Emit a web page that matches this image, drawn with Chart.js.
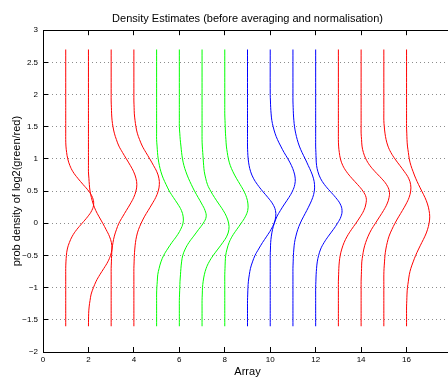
<!DOCTYPE html>
<html>
<head>
<meta charset="UTF-8">
<title>Density Estimates</title>
<script src="https://cdn.jsdelivr.net/npm/chart.js"></script>
<style>
  html, body { margin: 0; padding: 0; background: #fff; overflow: hidden; }
  #chart { display: block; }
</style>
</head>
<body>
<canvas id="chart" width="460" height="378"></canvas>
<script>
// log2 ratio values the densities were evaluated at (top to bottom)
const yGrid = [2.7, 2.0, 1.9, 1.8, 1.7, 1.6, 1.5, 1.4, 1.3, 1.2, 1.1, 1.0, 0.9, 0.8, 0.7, 0.6, 0.5, 0.4, 0.3, 0.2,
               0.1, 0.0, -0.1, -0.2, -0.3, -0.4, -0.5, -0.6, -0.7, -0.8, -0.9, -1.0, -1.1, -1.2, -1.3, -1.4, -1.6];
const arrays = [1, 2, 3, 4, 5, 6, 7, 8, 9, 10, 11, 12, 13, 14, 15, 16];

// density of each array, one value per yGrid entry
const d1  = [0,0,0,0,0,0,0,0,0, 0.01,0.04,0.09,0.18,0.32,0.53,0.77,1.01,1.18,1.23,1.15,0.96,0.72,0.48,0.29,0.16,0.07,0.03,0.01, 0,0,0,0,0,0,0,0,0];
const d2  = [0,0,0,0,0,0,0,0,0,0,0,0,0,0, 0.02,0.04,0.07,0.13,0.21,0.32,0.47,0.63,0.78,0.92,1.01,1.03,0.97,0.85,0.68,0.50,0.34,0.22,0.12,0.07,0.03,0.01, 0];
const d3  = [0,0,0, 0.01,0.02,0.04,0.08,0.14,0.23,0.34,0.50,0.67,0.84,0.99,1.09,1.13,1.09,0.99,0.84,0.67,0.50,0.34,0.23,0.14,0.08,0.04,0.02,0.01, 0,0,0,0,0,0,0,0,0];
const d4  = [0,0,0, 0.01,0.02,0.05,0.09,0.15,0.25,0.37,0.53,0.70,0.86,1.01,1.10,1.12,1.07,0.96,0.80,0.63,0.46,0.32,0.20,0.12,0.07,0.04,0.02,0.01, 0,0,0,0,0,0,0,0,0];
const d5  = [0,0,0,0,0,0,0,0,0, 0.02,0.04,0.07,0.12,0.19,0.29,0.42,0.56,0.74,0.93,1.09,1.17,1.16,1.05,0.88,0.67,0.48,0.31,0.19,0.11,0.05,0.03,0.01, 0,0,0,0,0];
const d6  = [0,0,0,0,0,0,0, 0.02,0.04,0.07,0.10,0.14,0.20,0.29,0.40,0.53,0.67,0.83,0.99,1.13,1.18,1.05,0.84,0.63,0.42,0.26,0.15,0.10,0.07,0.05,0.03,0.02,0.01, 0,0,0,0];
const d7  = [0,0,0,0,0,0,0,0,0, 0.01,0.03,0.05,0.07,0.10,0.16,0.24,0.38,0.55,0.74,0.93,1.08,1.17,1.18,1.09,0.91,0.70,0.49,0.31,0.18,0.10,0.05,0.02,0.01, 0,0,0,0];
const d8  = [0,0,0,0,0, 0.01,0.02,0.03,0.05,0.07,0.11,0.16,0.24,0.36,0.51,0.68,0.84,0.96,1.02,1.01,0.90,0.72,0.52,0.33,0.19,0.10,0.04,0.02,0.01, 0,0,0,0,0,0,0,0];
const d9  = [0,0,0,0,0,0,0,0,0,0, 0.01,0.03,0.07,0.14,0.26,0.44,0.66,0.90,1.11,1.23,1.24,1.17,1.03,0.85,0.66,0.49,0.33,0.22,0.13,0.08,0.04,0.02,0.01, 0,0,0,0];
const d10 = [0,0, 0.01,0.02,0.04,0.07,0.13,0.21,0.32,0.46,0.61,0.78,0.93,1.04,1.10,1.08,0.98,0.82,0.63,0.45,0.29,0.18,0.10,0.05,0.02,0.01, 0,0,0,0,0,0,0,0,0,0,0];
const d11 = [0,0,0, 0.01,0.02,0.04,0.07,0.12,0.19,0.28,0.40,0.54,0.67,0.80,0.90,0.95,0.94,0.87,0.75,0.61,0.46,0.32,0.21,0.13,0.07,0.04,0.02,0.01, 0,0,0,0,0,0,0,0,0];
const d12 = [0,0,0,0,0,0,0,0,0,0, 0.01,0.02,0.04,0.10,0.21,0.39,0.63,0.88,1.08,1.16,1.11,0.96,0.77,0.56,0.37,0.22,0.13,0.07,0.04,0.02,0.01, 0,0,0,0,0,0];
const d13 = [0,0,0,0,0,0,0,0,0, 0.01,0.04,0.09,0.19,0.36,0.59,0.85,1.08,1.22,1.21,1.12,0.96,0.77,0.57,0.39,0.25,0.15,0.08,0.04,0.02,0.01, 0,0,0,0,0,0,0];
const d14 = [0,0,0,0,0,0,0,0, 0.02,0.04,0.10,0.21,0.38,0.62,0.89,1.12,1.24,1.23,1.14,0.99,0.81,0.63,0.45,0.31,0.20,0.12,0.07,0.03,0.02,0.01, 0,0,0,0,0,0,0];
const d15 = [0,0,0,0,0,0, 0.02,0.05,0.10,0.18,0.31,0.49,0.70,0.91,1.09,1.18,1.18,1.11,0.98,0.82,0.65,0.49,0.35,0.23,0.15,0.09,0.05,0.03,0.01, 0,0,0,0,0,0,0,0];
const d16 = [0,0,0,0,0,0,0, 0.01,0.02,0.04,0.08,0.12,0.19,0.29,0.40,0.53,0.67,0.81,0.92,0.99,1.02,0.99,0.92,0.81,0.67,0.53,0.40,0.29,0.19,0.12,0.08,0.04,0.02,0.01, 0,0,0];

const densities = [d1, d2, d3, d4, d5, d6, d7, d8, d9, d10, d11, d12, d13, d14, d15, d16];

const red = '#ff0000', green = '#00ff00', blue = '#0000ff';
const colours = [red, red, red, red, green, green, green, green, blue, blue, blue, blue, red, red, red, red];

Chart.defaults.font.family = '"Liberation Sans", Arial, Helvetica, sans-serif';
Chart.defaults.color = '#000';

// inward tick marks and the top edge of the box, like the original plot
const boxTicks = {
  id: 'boxTicks',
  afterDraw(chart) {
    const {ctx, chartArea: a, scales: {x, y}} = chart;
    const al = p => Math.round(p - 0.5) + 0.5;
    ctx.save();
    ctx.strokeStyle = '#000';
    ctx.lineWidth = 1;
    ctx.beginPath();
    ctx.moveTo(a.left, al(a.top));
    ctx.lineTo(a.right, al(a.top));
    x.ticks.forEach(t => {
      const px = al(x.getPixelForValue(t.value));
      ctx.moveTo(px, a.bottom);
      ctx.lineTo(px, a.bottom - 5);
      ctx.moveTo(px, a.top);
      ctx.lineTo(px, a.top + 5);
    });
    y.ticks.forEach(t => {
      const py = al(y.getPixelForValue(t.value));
      ctx.moveTo(a.left, py);
      ctx.lineTo(a.left + 5, py);
    });
    ctx.stroke();
    ctx.restore();
  }
};

new Chart(document.getElementById('chart'), {
  type: 'line',
  data: {
    datasets: densities.map((d, i) => ({
      label: 'Array ' + arrays[i],
      data: d.map((v, j) => ({x: arrays[i] + v, y: yGrid[j]})),
      borderColor: colours[i],
      borderWidth: 1,
      pointRadius: 0,
      tension: 0.4,
      fill: false
    }))
  },
  options: {
    responsive: false,
    animation: false,
    layout: {padding: {right: 8}},
    plugins: {
      legend: {display: false},
      tooltip: {enabled: false},
      title: {
        display: true,
        text: 'Density Estimates (before averaging and normalisation)',
        fullSize: false,
        font: {size: 11, weight: 'normal'},
        padding: {top: 12, bottom: 5}
      }
    },
    scales: {
      x: {
        type: 'linear',
        min: 0,
        max: 18,
        afterFit: s => { s.height = 26; },
        ticks: {
          stepSize: 2,
          autoSkip: false,
          maxRotation: 0,
          padding: 3,
          font: {size: 8},
          callback: v => (v === 18 ? '' : String(v))
        },
        grid: {display: false, drawTicks: false},
        border: {color: '#000', width: 1},
        title: {display: true, text: 'Array', font: {size: 11}, padding: {top: 0, bottom: -1}}
      },
      y: {
        type: 'linear',
        min: -2,
        max: 3,
        afterFit: s => { s.width = 43; },
        ticks: {
          stepSize: 0.5,
          padding: 5,
          font: {size: 8},
          callback: v => String(v).replace('-', '\u2212')
        },
        grid: {color: '#8c8c8c', lineWidth: 1, drawTicks: false},
        border: {color: '#000', width: 1, dash: [1, 3]},
        title: {display: true, text: 'prob density of log2(green/red)', font: {size: 11}, padding: {top: 10, bottom: 0}}
      }
    }
  },
  plugins: [boxTicks]
});
</script>
</body>
</html>
